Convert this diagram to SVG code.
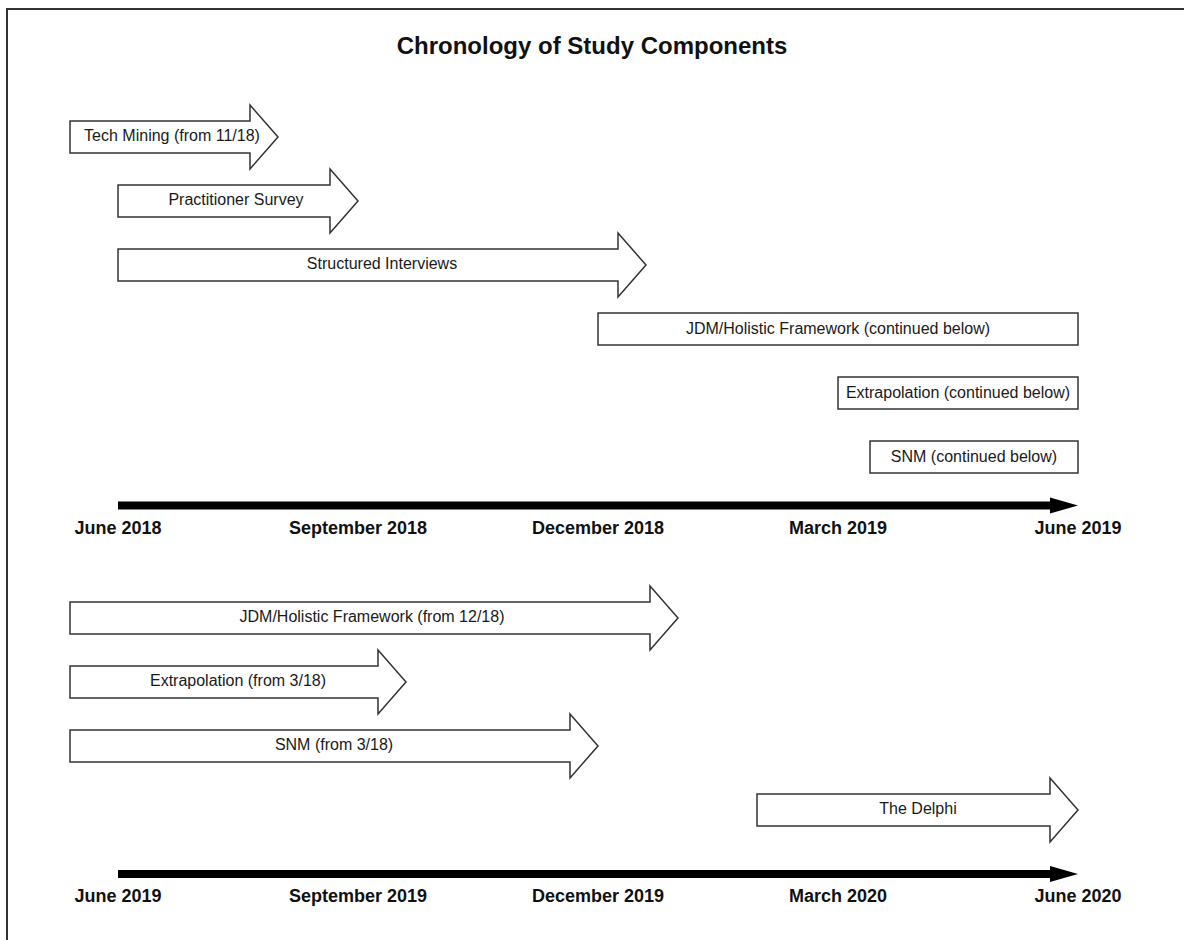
<svg xmlns="http://www.w3.org/2000/svg" width="1184" height="940" viewBox="0 0 1184 940">
  <style>
    .frame { fill: none; stroke: #333; stroke-width: 2; }
    .shape { fill: #fff; stroke: #333; stroke-width: 1.5; stroke-linejoin: miter; }
    .lbl { font-family: "Liberation Sans", Arial, sans-serif; font-size: 16px; fill: #1a1a1a; text-anchor: middle; }
    .title { font-family: "Liberation Sans", Arial, sans-serif; font-size: 24px; font-weight: bold; fill: #111; text-anchor: middle; }
    .date { font-family: "Liberation Sans", Arial, sans-serif; font-size: 18px; font-weight: bold; fill: #111; text-anchor: middle; }
    .axis { fill: #000; }
  </style>

  <rect width="1184" height="940" fill="#fff"/>
  <!-- outer frame: only top and left edges fall inside the canvas -->
  <path class="frame" d="M7,940 V9 H1184"/>

  <text class="title" x="592" y="54">Chronology of Study Components</text>

  <!-- 2018/2019 period -->
  <g id="tech-mining">
    <path class="shape" d="M70,121 H250 V105 L278,137 L250,169 V153 H70 Z"/>
    <text class="lbl" x="172" y="141">Tech Mining (from 11/18)</text>
  </g>
  <g id="practitioner-survey">
    <path class="shape" d="M118,185 H330 V169 L358,201 L330,233 V217 H118 Z"/>
    <text class="lbl" x="236" y="205">Practitioner Survey</text>
  </g>
  <g id="structured-interviews">
    <path class="shape" d="M118,249 H618 V233 L646,265 L618,297 V281 H118 Z"/>
    <text class="lbl" x="382" y="269">Structured Interviews</text>
  </g>
  <g id="jdm-continued">
    <rect class="shape" x="598" y="313" width="480" height="32"/>
    <text class="lbl" x="838" y="334">JDM/Holistic Framework (continued below)</text>
  </g>
  <g id="extrapolation-continued">
    <rect class="shape" x="838" y="377" width="240" height="32"/>
    <text class="lbl" x="958" y="398">Extrapolation (continued below)</text>
  </g>
  <g id="snm-continued">
    <rect class="shape" x="870" y="441" width="208" height="32"/>
    <text class="lbl" x="974" y="462">SNM (continued below)</text>
  </g>

  <!-- 2019/2020 period -->
  <g id="jdm-from">
    <path class="shape" d="M70,602 H650 V586 L678,618 L650,650 V634 H70 Z"/>
    <text class="lbl" x="372" y="622">JDM/Holistic Framework (from 12/18)</text>
  </g>
  <g id="extrapolation-from">
    <path class="shape" d="M70,666 H378 V650 L406,682 L378,714 V698 H70 Z"/>
    <text class="lbl" x="238" y="686">Extrapolation (from 3/18)</text>
  </g>
  <g id="snm-from">
    <path class="shape" d="M70,730 H570 V714 L598,746 L570,778 V762 H70 Z"/>
    <text class="lbl" x="334" y="750">SNM (from 3/18)</text>
  </g>
  <g id="delphi">
    <path class="shape" d="M757,794 H1050 V778 L1078,810 L1050,842 V826 H757 Z"/>
    <text class="lbl" x="918" y="814">The Delphi</text>
  </g>

  <!-- time axes -->
  <g id="connectors">
    <rect class="axis" x="118" y="501.5" width="934" height="8"/>
    <path class="axis" d="M1050,497.5 L1078,505.5 L1050,513.5 Z"/>
    <rect class="axis" x="118" y="870" width="934" height="8"/>
    <path class="axis" d="M1050,866 L1078,874 L1050,882 Z"/>
  </g>

  <g id="axis-2018-labels">
    <text class="date" x="118" y="534">June 2018</text>
    <text class="date" x="358" y="534">September 2018</text>
    <text class="date" x="598" y="534">December 2018</text>
    <text class="date" x="838" y="534">March 2019</text>
    <text class="date" x="1078" y="534">June 2019</text>
  </g>
  <g id="axis-2019-labels">
    <text class="date" x="118" y="902">June 2019</text>
    <text class="date" x="358" y="902">September 2019</text>
    <text class="date" x="598" y="902">December 2019</text>
    <text class="date" x="838" y="902">March 2020</text>
    <text class="date" x="1078" y="902">June 2020</text>
  </g>
</svg>
